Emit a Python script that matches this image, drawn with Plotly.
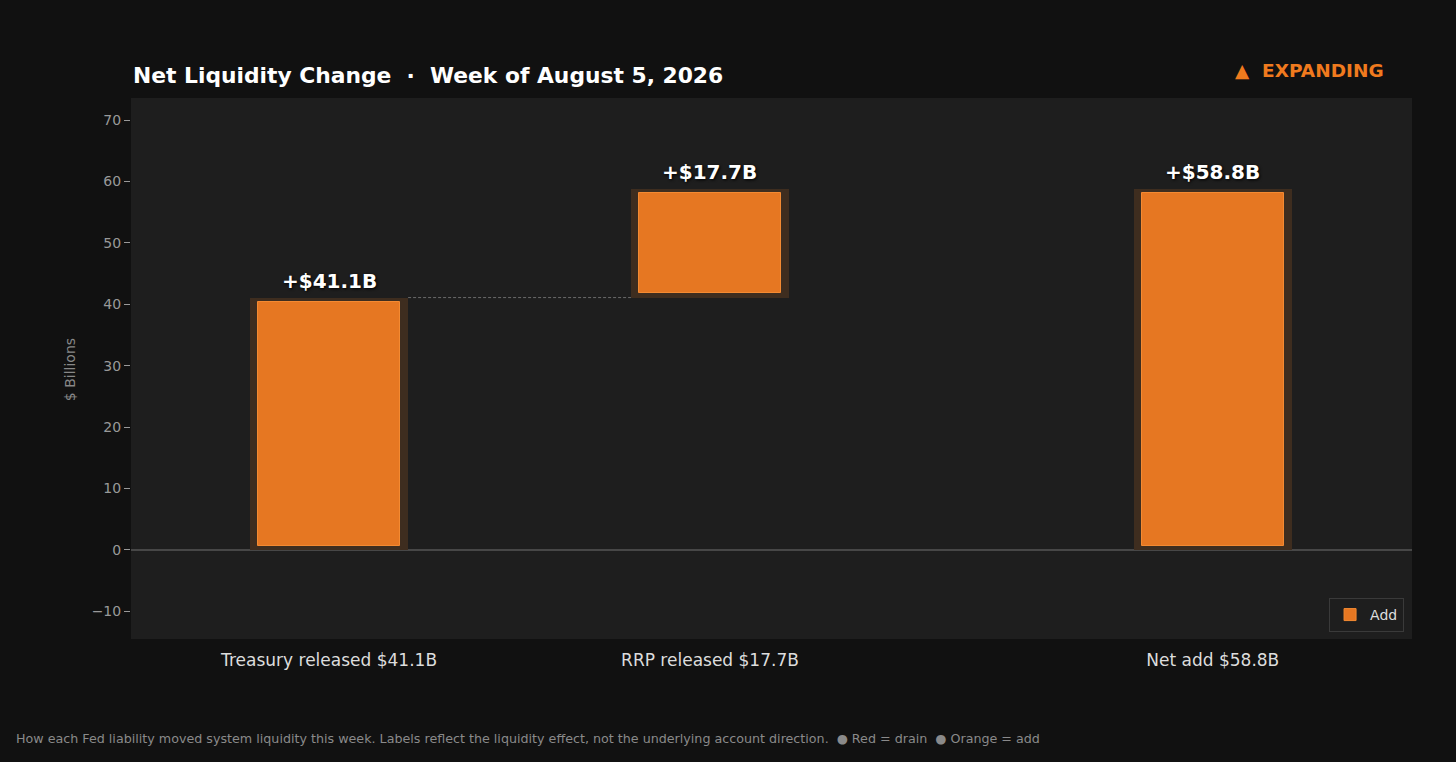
import plotly.graph_objects as go

# waterfall data (billions)
categories = ["Treasury released $41.1B", "RRP released $17.7B", "Net add $58.8B"]
changes = [41.1, 17.7, 58.8]
is_total = [False, False, True]
x_pos = [0, 1, 2.32]
value_labels = ["+$41.1B", "+$17.7B", "+$58.8B"]
y_ticks = [-10, 0, 10, 20, 30, 40, 50, 60, 70]

ORANGE = "#e67722"
GLOW = "#3e2d1f"
BG = "#111111"
PLOT_BG = "#1e1e1e"
FONT = "DejaVu Sans"

# bases: steps stack on the running total, totals start at zero
bases = []
running = 0
for val, tot in zip(changes, is_total):
    if tot:
        bases.append(0)
    else:
        bases.append(running)
        running += val
tops = [b + v for b, v in zip(bases, changes)]

inset = 0.7
fig = go.Figure()

# dark halo behind each bar
fig.add_trace(go.Bar(
    x=x_pos, y=changes, base=bases, width=0.415,
    marker=dict(color=GLOW, line=dict(width=0)),
    showlegend=False, hoverinfo="skip",
))
# main orange bars
fig.add_trace(go.Bar(
    x=x_pos, y=[v - 2 * inset for v in changes], base=[b + inset for b in bases],
    width=0.373, name="Add",
    marker=dict(color=ORANGE, line=dict(color="#f48a32", width=1)),
))

# dashed connectors between consecutive step bars
for i in range(len(changes) - 1):
    if is_total[i + 1]:
        continue
    fig.add_trace(go.Scatter(
        x=[x_pos[i] + 0.2075, x_pos[i + 1] - 0.2075], y=[tops[i], tops[i]],
        mode="lines", line=dict(color="#6a6a6a", width=1, dash="3px,2px"),
        showlegend=False, hoverinfo="skip",
    ))

annotations = []
for xp, top, lab in zip(x_pos, tops, value_labels):
    annotations.append(dict(
        x=xp, y=top, text=lab, showarrow=False, yanchor="bottom", yshift=3,
        font=dict(family=FONT, size=20, color="white", weight="bold",
                  shadow="1px 1px 3px #000"),
    ))

annotations += [
    dict(xref="paper", yref="paper", x=0, y=1.0425, xanchor="left", yanchor="middle",
         text="Net Liquidity Change  ·  Week of August 5, 2026", showarrow=False,
         font=dict(family=FONT, size=21.8, color="white", weight="bold")),
    dict(xref="paper", yref="paper", x=0.9797, y=1.05, xanchor="right", yanchor="middle",
         text="▲  EXPANDING", showarrow=False,
         font=dict(family=FONT, size=18.5, color="#f07a1e", weight="bold")),
    dict(xref="paper", yref="paper", x=-0.0476, y=0.497, xanchor="center", yanchor="middle",
         textangle=-90, text="$ Billions", showarrow=False,
         font=dict(family=FONT, size=14, color="#888888")),
    dict(xref="paper", yref="paper", x=-0.0913, y=-0.183, xanchor="left", yanchor="middle",
         text="How each Fed liability moved system liquidity this week. Labels reflect the liquidity "
              "effect, not the underlying account direction.  ● Red = drain  ● Orange = add",
         showarrow=False, font=dict(family=FONT, size=12.7, color="#8a8a8a")),
]

fig.update_layout(
    width=1456, height=762,
    paper_bgcolor=BG, plot_bgcolor=PLOT_BG,
    margin=dict(l=131, r=44, t=98, b=123),
    barmode="overlay", bargap=0,
    font=dict(family=FONT, color="#999999"),
    annotations=annotations,
    legend=dict(x=0.9938, y=0.013, xanchor="right", yanchor="bottom",
                bgcolor=PLOT_BG, bordercolor="#3a3a3a", borderwidth=1,
                font=dict(family=FONT, size=14, color="#dddddd")),
    xaxis=dict(range=[-0.52, 2.843], tickvals=x_pos, ticktext=categories,
               showgrid=False, zeroline=False, showline=False, ticks="",
               ticklabelstandoff=9,
               tickfont=dict(family=FONT, size=17, color="#dddddd")),
    yaxis=dict(range=[-14.5, 73.6], tickvals=y_ticks, showgrid=False,
               zeroline=True, zerolinecolor="#474747", zerolinewidth=1.5,
               showline=False, ticks="outside", ticklen=6, tickcolor="#999999",
               tickfont=dict(family=FONT, size=14, color="#999999")),
)

# drop the default page margin so the figure fills the window
fig.write_html("out.html", config={"displayModeBar": False},
               post_script="document.body.style.margin='0';document.body.style.background='#111111';")
